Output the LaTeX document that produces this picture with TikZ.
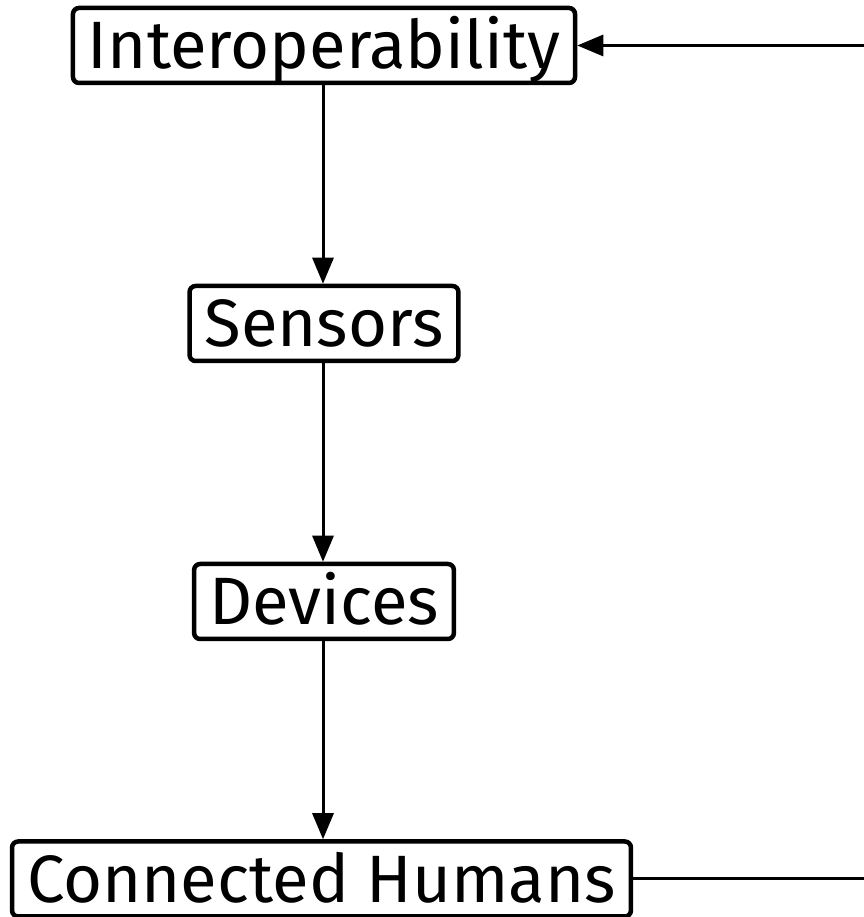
\documentclass[tikz,border=0pt]{standalone}
\usepackage{fontspec}
\setmainfont{Fira Sans}
\usetikzlibrary{arrows.meta}
\tikzset{
  box/.style={draw, line width=4.5pt, rounded corners=6pt, fill=white,
    font=\fontsize{67pt}{80pt}\selectfont, text height=60pt, text depth=13pt,
    inner xsep=15pt, inner ysep=1pt},
  arr/.style={line width=3pt, -{Triangle[length=26pt,width=21pt]}},
  plain/.style={line width=3pt}
}
\begin{document}
\begin{tikzpicture}[x=1pt,y=1pt]
\useasboundingbox (0,0) rectangle (863,917);
\fill[white] (0,0) rectangle (863,917);
\node[box] (io) at (324,871.5) {Interoperability};
\node[box] (se) at (324,593.5) {Sensors};
\node[box] (de) at (324,315.5) {Devices};
\node[box] (ch) at (321.5,38) {Connected Humans};
\coordinate (r) at (890,455);
\draw[arr] (io.south -| 323,0) -- (se.north -| 323,0);
\draw[arr] (se.south -| 323,0) -- (de.north -| 323,0);
\draw[arr] (de.south -| 323,0) -- (ch.north -| 323,0);
\draw[arr] (ch.east) -| (r) |- (io.east);
\end{tikzpicture}
\end{document}
